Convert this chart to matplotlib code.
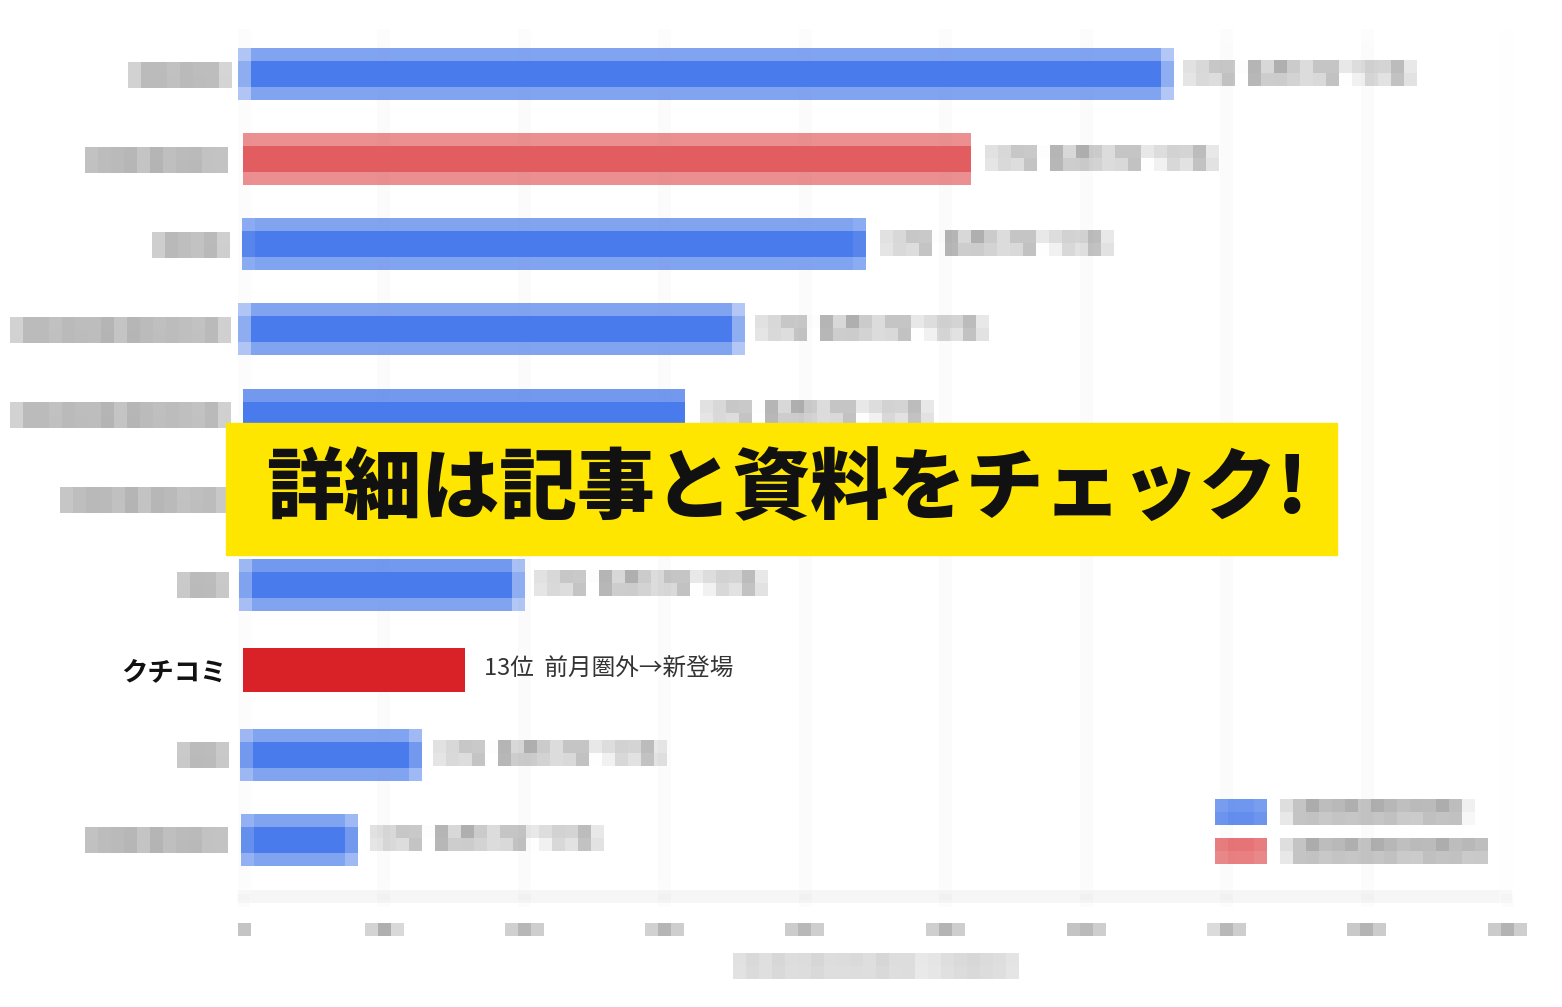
import numpy as np
import matplotlib
matplotlib.use('Agg')
import matplotlib.pyplot as plt
from matplotlib.patches import Rectangle, Patch

plt.rcParams['font.family'] = ['Noto Sans CJK JP', 'DejaVu Sans']

# --- data (hidden names are mosaic-blurred in the source, kept as 〇 placeholders)
categories = ['〇〇〇〇', '〇〇〇〇〇〇', '〇〇〇', '〇〇〇〇〇〇〇〇〇', '〇〇〇〇〇〇〇〇〇',
              '〇〇〇〇〇〇〇', '〇〇', 'クチコミ', '〇〇', '〇〇〇〇〇〇']
values = [6.59, 5.18, 4.43, 3.54, 3.15, 2.60, 1.97, 1.58, 1.25, 0.80]
groups = ['a', 'b', 'a', 'a', 'a', 'a', 'a', 'hl', 'a', 'a']
rank_notes = ['〇位  前月〇位→〇位'] * 7 + ['13位  前月圏外→新登場'] + ['〇位  前月〇位→〇位'] * 2
xticks = [0, 1, 2, 3, 4, 5, 6, 7, 8, 9]
xtick_labels = ['0', '100', '200', '300', '400', '500', '600', '700', '800', '900']
legend_labels = ['〇〇〇〇〇〇〇〇', '〇〇〇〇〇〇〇〇〇']
highlight = 'クチコミ'
banner_text = '詳細は記事と資料をチェック!'

COLORS = {'a': '#4A7CEC', 'b': '#E25E60', 'hl': '#D92128'}
BLOCK = 13


def pixelate(img, dpi, b=BLOCK):
    # mosaic filter, same look as the blurred source
    h, w = img.shape[:2]
    H = -(-h // b) * b
    W = -(-w // b) * b
    py, px = H - h, W - w
    top, left = py // 2, px // 2
    buf = np.zeros((H, W, 4))
    buf[top:top + h, left:left + w] = img
    a = buf[..., 3:4]
    pm = (buf[..., :3] * a).reshape(H // b, b, W // b, b, 3).mean(axis=(1, 3))
    am = a.reshape(H // b, b, W // b, b, 1).mean(axis=(1, 3))
    rgb = pm / np.maximum(am, 1e-9)
    out = np.concatenate([rgb, am], axis=-1).repeat(b, 0).repeat(b, 1)
    return out, -left, -(py - top)


W_PX, H_PX = 1562, 1007
fig = plt.figure(figsize=(W_PX / 100, H_PX / 100), dpi=100)
ax = fig.add_axes([243 / W_PX, 1 - 896 / H_PX, (1507 - 243) / W_PX, (896 - 31.5) / H_PX])

y = np.arange(len(categories))
bars = ax.barh(y, values, height=0.52, color=[COLORS[g] for g in groups], zorder=3)
for b, g in zip(bars, groups):
    if g != 'hl':
        b.set_agg_filter(pixelate)

for i, (v, note) in enumerate(zip(values, rank_notes)):
    is_hl = categories[i] == highlight
    t = ax.annotate(note, (v, i), xytext=(14, 0), textcoords='offset points',
                    va='center', ha='left', fontsize=17,
                    color='#333333' if is_hl else '#222222', zorder=4)
    if not is_hl:
        t.set_agg_filter(pixelate)

ax.set_xlim(0, 9)
ax.set_ylim(9.66, -0.5)
ax.set_xticks(xticks, xtick_labels, fontsize=13, color='#222222')
ax.set_yticks(y, categories, fontsize=17)
ax.tick_params(axis='y', length=0, pad=12)
ax.tick_params(axis='x', length=6, color='#cccccc', pad=13)
ax.grid(axis='x', color='#e2e2e2', linewidth=1.0, zorder=0)
ax.set_axisbelow(True)
for s in ['top', 'right', 'left']:
    ax.spines[s].set_visible(False)
ax.spines['bottom'].set_color('#c8c8c8')
ax.spines['bottom'].set_linewidth(1.4)
ax.spines['bottom'].set_agg_filter(pixelate)

ax.set_xlabel('〇〇〇〇〇〇〇〇〇  〇〇〇〇', fontsize=15, color='#222222', labelpad=12)
ax.xaxis.label.set_agg_filter(pixelate)

for lab in ax.get_yticklabels():
    if lab.get_text() == highlight:
        lab.set_fontweight('bold')
        lab.set_fontsize(19)
        lab.set_color('#111111')
    else:
        lab.set_color('#111111')
        lab.set_fontweight('bold')
        lab.set_agg_filter(pixelate)
for lab in ax.get_xticklabels():
    lab.set_agg_filter(pixelate)
for tk in ax.xaxis.get_major_ticks():
    tk.gridline.set_agg_filter(pixelate)
    tk.tick1line.set_agg_filter(pixelate)

handles = [Patch(color=COLORS['a']), Patch(color=COLORS['b'])]
leg = ax.legend(handles, legend_labels, loc='lower right', bbox_to_anchor=(1.0, 0.015),
                frameon=False, fontsize=16, labelcolor='#111111',
                prop={'weight': 'bold', 'size': 16},
                handlelength=2.2, handleheight=1.0, handletextpad=1.0, labelspacing=0.7)
leg.set_agg_filter(pixelate)

# yellow banner on top
fig.add_artist(Rectangle((226 / W_PX, 1 - 555 / H_PX), (1337 - 226) / W_PX, 132 / H_PX,
                         transform=fig.transFigure, color='#FFE600', zorder=10))
fig.text(787 / W_PX, 1 - 490 / H_PX, banner_text, ha='center', va='center',
         fontsize=56, fontweight='heavy', color='#111111', zorder=11)

fig.savefig('out.png', dpi=100, facecolor='white')
